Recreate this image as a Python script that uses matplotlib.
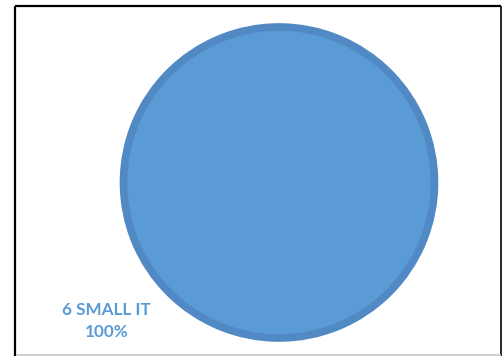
import matplotlib
matplotlib.use("Agg")
import matplotlib.pyplot as plt

# segment data
labels = ["6 SMALL IT"]
sizes = [100]

W, H = 503, 356
fig = plt.figure(figsize=(W / 100, H / 100), dpi=100)
ax = fig.add_axes([0, 0, 1, 1])

ax.pie(sizes, center=(279, 182.5), radius=155.5, startangle=90,
       colors=["#5B9BD5"],
       wedgeprops=dict(edgecolor="#5089C3", linewidth=5.5))

pct = 100 * sizes[0] / sum(sizes)
ax.text(106.5, 321, f"{labels[0]}\n{pct:.0f}%", ha="center", va="center",
        color="#5B9BD5", fontsize=12.3, fontweight="bold", family="Lato",
        linespacing=1.45)

# frame round the chart area
ax.plot([15.5, 15.5], [356, 6], color="black", lw=1.6, solid_capstyle="butt")
ax.plot([15.5, 501], [6.2, 6.2], color="black", lw=1.6, solid_capstyle="butt")
ax.plot([501, 501], [6, 356], color="black", lw=1.2, solid_capstyle="butt")
ax.plot([16, 501], [355, 355], color="#c8c8c8", lw=1.2, solid_capstyle="butt")

ax.set_xlim(0, W)
ax.set_ylim(H, 0)
ax.set_aspect("auto")
ax.axis("off")

fig.savefig("out.png", dpi=100)
